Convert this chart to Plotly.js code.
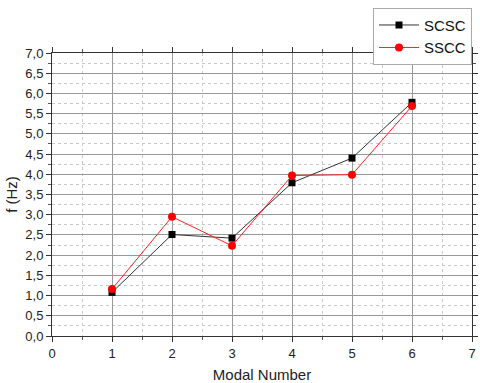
<!DOCTYPE html>
<html>
<head>
<meta charset="utf-8">
<script src="https://cdn.plot.ly/plotly-3.0.1.min.js"></script>
<style>
  html, body { margin: 0; padding: 0; background: #fff; }
  #chart { width: 480px; height: 383px; }
</style>
</head>
<body>
<div id="chart"></div>
<script>
const modes = [1, 2, 3, 4, 5, 6];
const scsc = [1.08, 2.51, 2.42, 3.79, 4.40, 5.78];
const sscc = [1.16, 2.95, 2.23, 3.97, 3.99, 5.69];

const traceScsc = {
    type: 'scatter',
    mode: 'lines+markers',
    name: 'SCSC',
    x: modes,
    y: scsc,
    line: { color: '#333333', width: 1 },
    marker: { color: '#000000', symbol: 'square', size: 7 }
};

const traceSscc = {
    type: 'scatter',
    mode: 'lines+markers',
    name: 'SSCC',
    x: modes,
    y: sscc,
    line: { color: '#ff2020', width: 1 },
    marker: { color: '#ff0000', symbol: 'circle', size: 8 }
};

const fam = 'Liberation Sans, Arial, sans-serif';
const axisFont = { family: fam, size: 13, color: '#222' };

const layout = {
    width: 480,
    height: 383,
    margin: { l: 52, r: 8, t: 48, b: 47 },
    paper_bgcolor: '#fff',
    plot_bgcolor: '#fff',
    separators: ',.',
    font: axisFont,
    showlegend: true,
    legend: {
        x: 1, xanchor: 'right',
        y: 1.16, yanchor: 'top',
        bordercolor: '#aaa', borderwidth: 1,
        bgcolor: '#fff',
        itemwidth: 40,
        font: { family: fam, size: 15, color: '#111' },
        tracegroupgap: 0
    },
    xaxis: {
        range: [0, 7],
        dtick: 1,
        tick0: 0,
        showline: true, linecolor: '#333', linewidth: 1, mirror: 'ticks',
        ticks: 'outside', ticklen: 5, tickcolor: '#333',
        showgrid: true, gridcolor: '#999', gridwidth: 1,
        zeroline: false,
        minor: { dtick: 0.5, ticks: 'outside', ticklen: 3, tickcolor: '#555', showgrid: true, gridcolor: '#c8c8c8', griddash: 'dot' },
        tickfont: axisFont,
        title: { text: 'Modal Number', font: { family: fam, size: 15, color: '#222' }, standoff: 10 }
    },
    yaxis: {
        range: [0, 7],
        dtick: 0.5,
        tick0: 0,
        tickformat: '.1f',
        showline: true, linecolor: '#333', linewidth: 1, mirror: 'ticks',
        ticks: 'outside', ticklen: 5, tickcolor: '#333',
        showgrid: true, gridcolor: '#999', gridwidth: 1,
        zeroline: false,
        minor: { dtick: 0.25, ticks: 'outside', ticklen: 3, tickcolor: '#555', showgrid: true, gridcolor: '#c8c8c8', griddash: 'dot' },
        tickfont: axisFont,
        title: { text: 'f (Hz)', font: { family: fam, size: 15, color: '#222' }, standoff: 4 }
    }
};

Plotly.newPlot('chart', [traceScsc, traceSscc], layout, { displayModeBar: false, staticPlot: true });
</script>
</body>
</html>
